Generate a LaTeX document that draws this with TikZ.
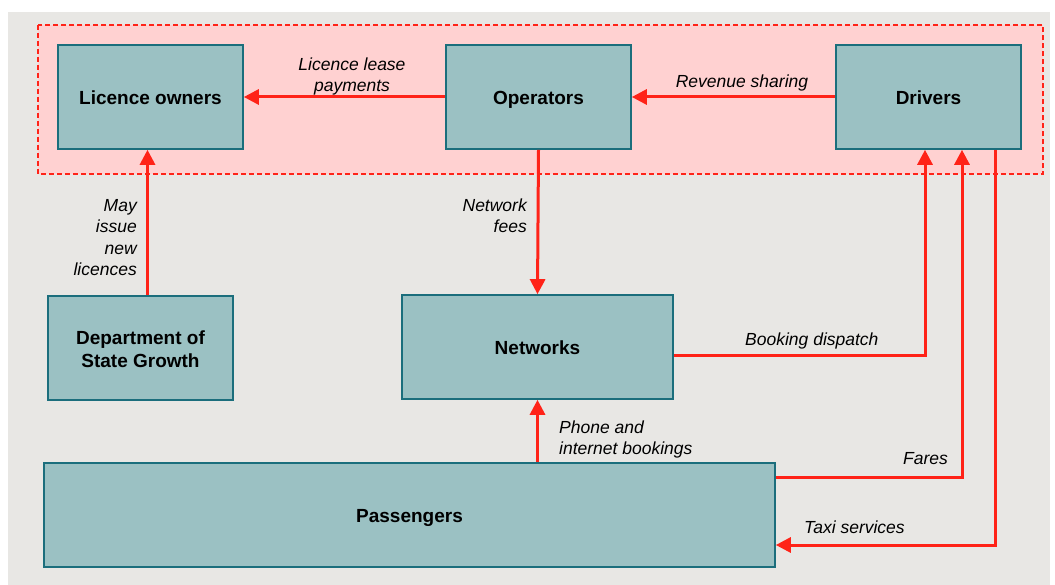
\documentclass[tikz,border=0pt]{standalone}
\usepackage{fontspec}
\setmainfont{Liberation Sans}
\usetikzlibrary{arrows.meta,calc}

\definecolor{bggray}{HTML}{E8E7E4}
\definecolor{zonepink}{HTML}{FFD1D1}
\definecolor{flowred}{HTML}{FF2318}
\definecolor{boxfill}{HTML}{9BC1C3}
\definecolor{boxline}{HTML}{1B6E7C}

\tikzset{
  entity/.style={draw=boxline, line width=1.6pt, fill=boxfill, inner sep=0pt,
    minimum height=104pt, align=center, font=\fontsize{19}{23}\selectfont\bfseries},
  oneline/.style={text height=15.5pt, text depth=0pt},
  flow/.style={draw=flowred, line width=3pt,
    -{Triangle[length=15pt,width=15pt]}},
  flowlabel/.style={inner sep=0pt, font=\fontsize{17.5}{21.5}\selectfont\itshape}
}

\begin{document}
\begin{tikzpicture}[x=1pt,y=-1pt]
  % canvas and background panel
  \useasboundingbox (0,0) rectangle (1055,585);
  \fill[white] (0,0) rectangle (1055,585);
  \fill[bggray] (8,12) rectangle (1050,585);

  % industry zone
  \draw[flowred, fill=zonepink, line width=1.2pt, dash pattern=on 5pt off 3pt]
    (38,25) rectangle (1043,174);

  % entities
  \node[entity, oneline, minimum width=185pt] (lic) at (150.5,97) {Licence owners};
  \node[entity, oneline, minimum width=185pt] (ops) at (538.5,97) {Operators};
  \node[entity, oneline, minimum width=185pt] (drv) at (928.5,97) {Drivers};
  \node[entity, minimum width=185pt] (dept) at (140.5,348) {};
  \node[inner sep=0pt, align=center, font=\fontsize{19}{23}\selectfont\bfseries]
    (deptlabel) at (140.5,349.5) {Department of\\State Growth};
  \node[entity, oneline, minimum width=271pt] (net) at (537.5,347) {Networks};
  \node[entity, oneline, minimum width=731pt] (pass) at (409.5,515) {Passengers};

  % flows
  \draw[flow] (ops.west) -- (lic.east);
  \draw[flow] (drv.west) -- (ops.east);
  \draw[flow] ([xshift=-3pt]lic.south |- dept.north) -- ([xshift=-3pt]lic.south);
  \draw[flow] (ops.south) -- (net.north);
  \draw[flow] (net.south |- pass.north) -- (net.south);
  \draw[flow] ([yshift=-8pt]net.east) -| ([xshift=-3.5pt]drv.south);
  \draw[flow] ([yshift=38pt]pass.east) -| ([xshift=33.5pt]drv.south);
  \draw[flow] ([xshift=66.5pt]drv.south) |- ([yshift=-30pt]pass.east);

  % flow labels
  \node[flowlabel, align=center] (lleas) at (352,76.5) {Licence lease\\payments};
  \node[flowlabel] (lrev) at (742,83) {Revenue sharing};
  \node[flowlabel, align=right, anchor=east] (lmay) at (137,237.5) {May\\issue\\new\\licences};
  \node[flowlabel, align=right, anchor=east] (lfee) at (527,215.5) {Network\\fees};
  \node[flowlabel, anchor=west] (lbook) at (745,341) {Booking dispatch};
  \node[flowlabel, align=left, anchor=west] (lphone) at (559,439.5) {Phone and\\internet bookings};
  \node[flowlabel, anchor=east] (lfare) at (948,459) {Fares};
  \node[flowlabel, anchor=west] (ltaxi) at (804,527) {Taxi services};
\end{tikzpicture}
\end{document}
